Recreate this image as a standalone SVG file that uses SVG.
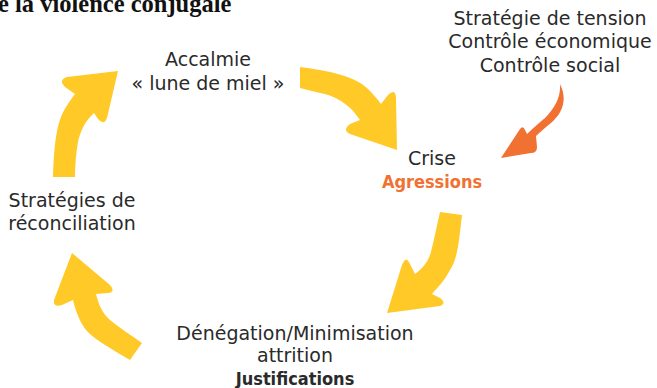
<svg xmlns="http://www.w3.org/2000/svg" width="657" height="388" viewBox="0 0 657 388">
  <style>
    .lbl { font-family: "DejaVu Sans", "Liberation Sans", sans-serif; font-size: 19px; fill: #2a2a2a; text-anchor: middle; }
    .bold { font-family: "DejaVu Sans Condensed", "Liberation Sans", sans-serif; font-size: 18px; font-weight: bold; }
    .accent { fill: #f07132; }
    .title { font-family: "Liberation Serif", serif; font-size: 24.5px; font-weight: bold; fill: #111; }
    .cycle { fill: #ffc928; }
    .push { fill: #f07132; }
  </style>

  <rect width="657" height="388" fill="#ffffff"/>

  <!-- heading, clipped at the top edge -->
  <text class="title" x="-2" y="12">e la violence conjugale</text>

  <!-- curved block arrows -->
  <g id="connectors">
    <!-- reconciliation -> calm -->
    <path class="cycle" d="M53,177 C54,148 56,122 66,107 C69,102 72,98 75,94 L65,87 Q58,80 67,77 L118,71 L107,118 Q104,126 98,119 L94,113 C85,121 80,132 78,142 C76,153 75,165 75,177 Z"/>
    <!-- calm -> crisis -->
    <path class="cycle" d="M300,67 C330,71 355,76 368,89 C374,95 378,100 381,104 L388,95 Q395,88 396,97 L397,150 L350,134 Q342,130 350,124 L360,120 C352,108 342,99 325,94 C315,92 308,90 300,88 Z"/>
    <!-- external pressure -> crisis -->
    <path class="push" d="M560,84 C567,98 564,112 551,123 C546,127 541,131 536,136 L537,147 Q537,153 531,153 L501,158 L520,129 Q523,125 525,130 L527,134 C533,128 539,123 545,118 C555,108 561,97 560,84 Z"/>
    <!-- crisis -> denial -->
    <path class="cycle" d="M440,212 L462,215 C459,240 458,258 450,270 C445,280 438,287 432,294 L440,298 Q447,303 440,306 L387,313 L402,265 Q406,255 410,264 L415,274 C423,268 428,262 431,252 C434,240 437,225 440,212 Z"/>
    <!-- denial -> reconciliation -->
    <path class="cycle" d="M142,343 L130,360 C110,348 95,340 86,330 C80,322 76,312 73,300 L62,305 Q53,308 54,300 L72,253 L110,285 Q116,292 108,293 L96,294 C99,305 102,313 110,320 C120,328 132,336 142,343 Z"/>
  </g>

  <g id="node-calm">
    <text class="lbl" x="208" y="66">Accalmie</text>
    <text class="lbl" x="208" y="90">« lune de miel »</text>
  </g>

  <g id="node-pressure">
    <text class="lbl" x="550" y="25">Stratégie de tension</text>
    <text class="lbl" x="550" y="48">Contrôle économique</text>
    <text class="lbl" x="550" y="72">Contrôle social</text>
  </g>

  <g id="node-crisis">
    <text class="lbl" x="432" y="165">Crise</text>
    <text class="lbl bold accent" x="432" y="188">Agressions</text>
  </g>

  <g id="node-denial">
    <text class="lbl" x="295" y="340">Dénégation/Minimisation</text>
    <text class="lbl" x="295" y="362">attrition</text>
    <text class="lbl bold" x="295" y="385">Justifications</text>
  </g>

  <g id="node-reconciliation">
    <text class="lbl" x="72" y="207">Stratégies de</text>
    <text class="lbl" x="72" y="230">réconciliation</text>
  </g>
</svg>
